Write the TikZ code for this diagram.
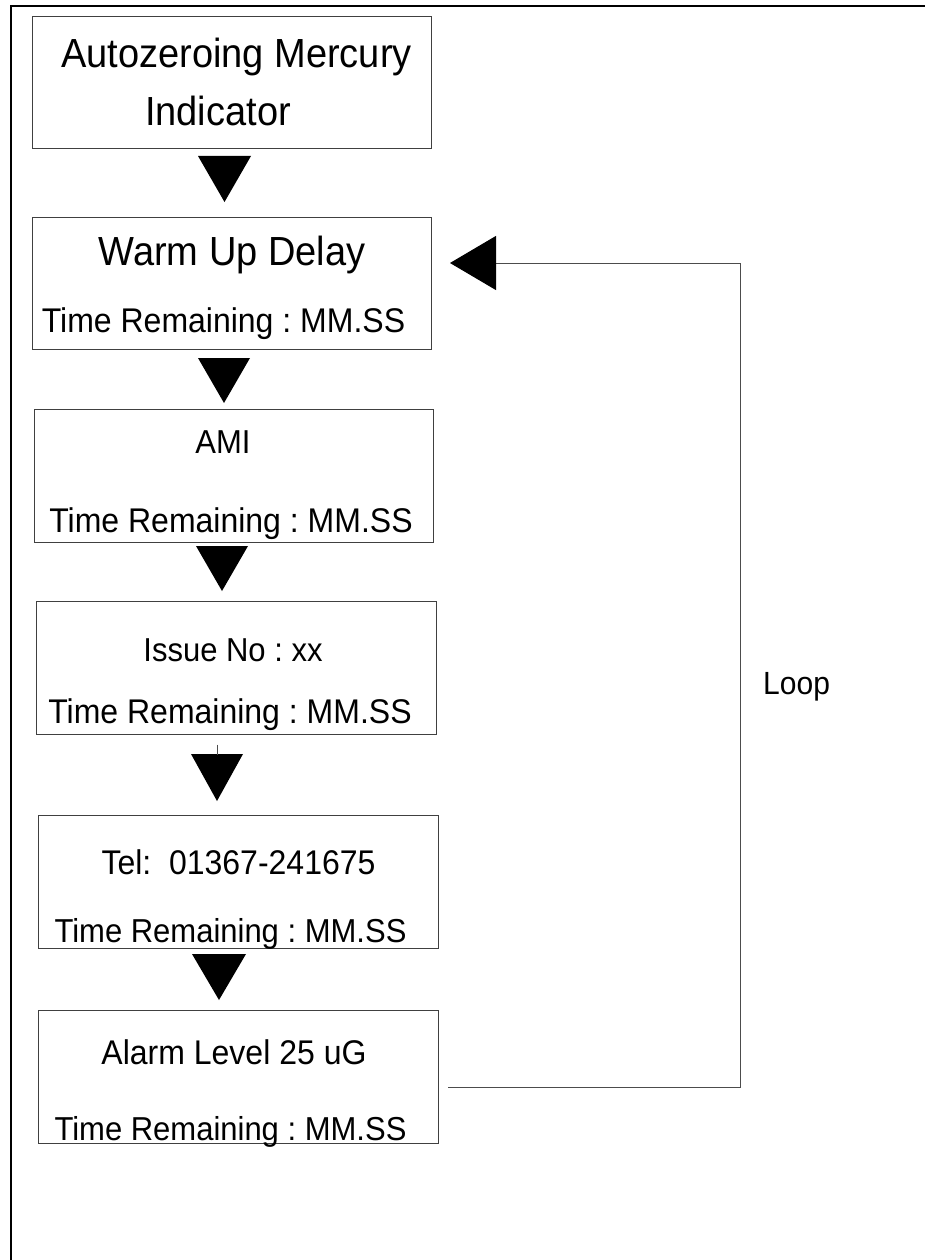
\documentclass[tikz,border=0pt]{standalone}
\usepackage{fontspec}
\usepackage{graphicx}
\setmainfont{Liberation Sans}
\usetikzlibrary{arrows.meta}
\newcommand{\vst}[1]{\scalebox{1}[1.07]{#1}}
\frenchspacing
\begin{document}
\begin{tikzpicture}[x=1pt,y=-1pt,
  box/.style={draw=black!75,line width=1pt,inner sep=0pt,minimum width=400pt,minimum height=133pt},
  big/.style={inner sep=0pt,anchor=base,font=\fontsize{38}{44}\selectfont},
  mid/.style={inner sep=0pt,anchor=base,font=\fontsize{32}{38}\selectfont},
  sml/.style={inner sep=0pt,anchor=base,font=\fontsize{31}{37}\selectfont},
  tri/.style={fill=black},
  loopline/.style={draw=black!70,line width=1pt}]
\useasboundingbox (0,0) rectangle (925,1260);
\clip (0,0) rectangle (925,1260);
% outer frame (extends beyond the page on right and bottom)
\draw[line width=2pt] (940,6) -- (11,6) -- (11,1275);
% boxes
\node[box,minimum width=399pt,minimum height=132pt] (b1) at (231.5,83) {};
\node[box,minimum width=399pt,minimum height=132pt] (b2) at (231.5,283) {};
\node[box,minimum width=399pt] (b3) at (233.5,475.5) {};
\node[box] (b4) at (236,667.5) {};
\node[box] (b5) at (238,881.5) {};
\node[box] (b6) at (238,1076.5) {};
% texts
\node[big] (b1a) at (236.5,68) {\vst{Autozeroing Mercury}};
\node[big] (b1b) at (218,126) {\vst{Indicator}};
\node[big] (b2a) at (232,265) {\vst{Warm Up Delay}};
\node[mid] (b2b) at (223.5,332) {\vst{Time Remaining : MM.SS}};
\node[sml] (b3a) at (223,453) {\vst{AMI}};
\node[mid] (b3b) at (231,532) {\vst{Time Remaining : MM.SS}};
\node[sml] (b4a) at (233,661) {\vst{Issue No : xx}};
\node[mid] (b4b) at (230,723) {\vst{Time Remaining : MM.SS}};
\node[mid] (b5a) at (238.5,874) {\vst{Tel:\ \ 01367-241675}};
\node[sml] (b5b) at (230.5,942) {\vst{Time Remaining : MM.SS}};
\node[mid] (b6a) at (234,1064) {\vst{Alarm Level 25 uG}};
\node[sml] (b6b) at (230.5,1140) {\vst{Time Remaining : MM.SS}};
\node[inner sep=0pt,anchor=base west,font=\fontsize{30}{36}\selectfont] (lp) at (763,694) {\vst{Loop}};
% down triangles between boxes
\fill[tri] (198,156) -- (251,156) -- (224.5,202) -- cycle;
\fill[tri] (198,358) -- (250,358) -- (224,403) -- cycle;
\fill[tri] (196,546) -- (248,546) -- (222,591) -- cycle;
\fill[tri] (191,754) -- (243,754) -- (217,801) -- cycle;
\fill[tri] (192,954) -- (246,954) -- (219,1000) -- cycle;
% small tick below Issue box
\coordinate (tk) at (217,755);
\draw[black!70,line width=1pt] (b4.south -| tk) ++(0,10) -- (tk);
% loop connector
\coordinate (le) at (448,1087);
\coordinate (lc1) at (740,1087);
\coordinate (lc2) at (740,263);
\coordinate (lt) at (450,263);
\draw[loopline,-{Triangle[length=46pt,width=54pt,color=black,fill=black]}] (le) -- (lc1) -- (lc2) -- (lt);
\end{tikzpicture}
\end{document}
